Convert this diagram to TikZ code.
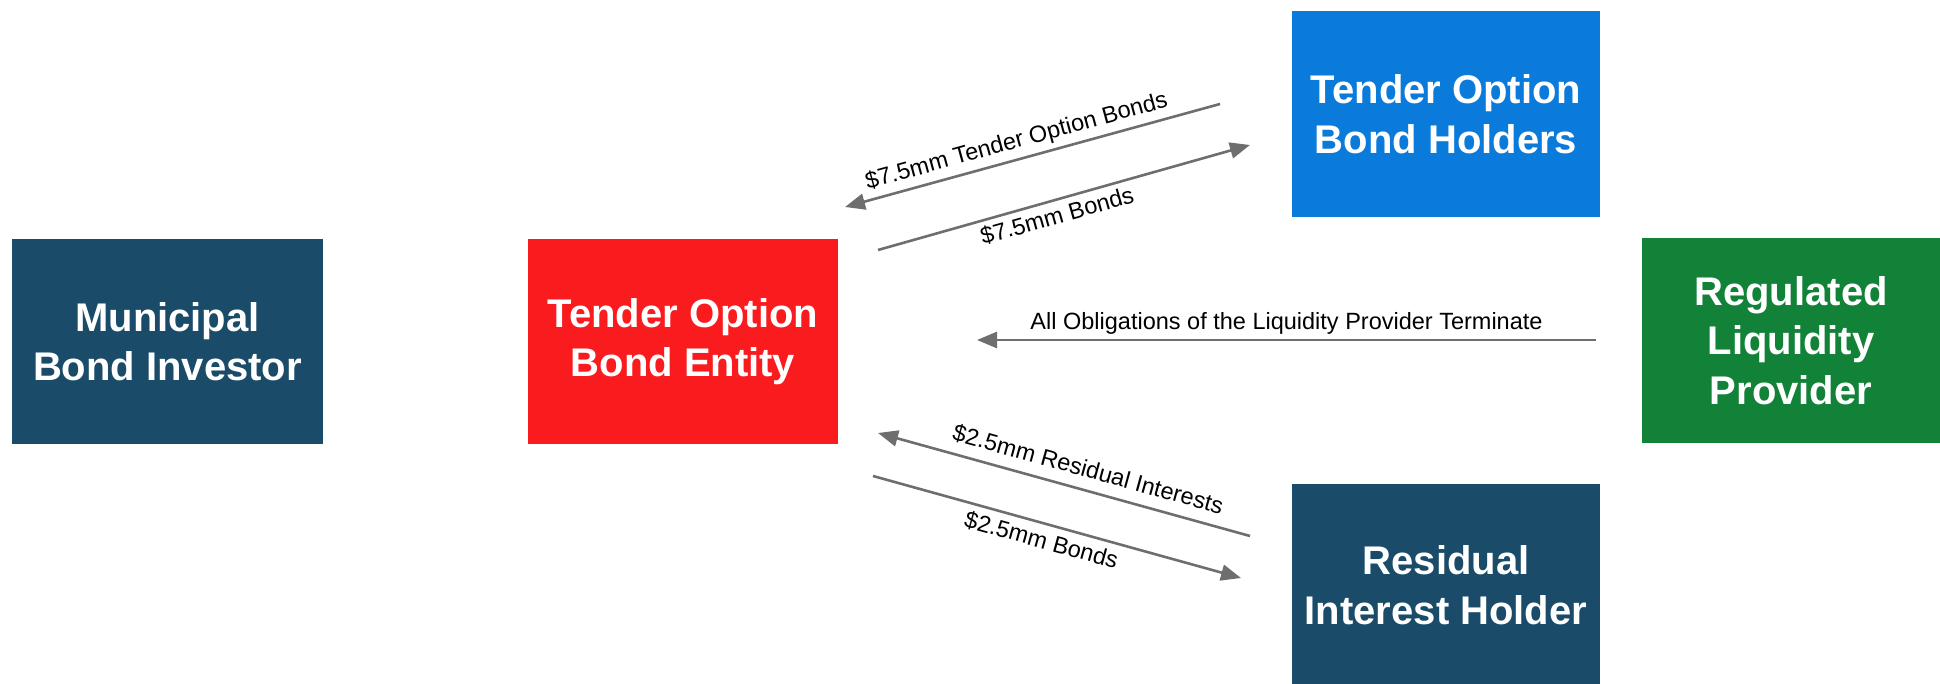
\documentclass[tikz,border=0pt]{standalone}
\usepackage{fontspec}
\setmainfont{Liberation Sans}
\usetikzlibrary{arrows.meta}
\definecolor{navybox}{RGB}{26,75,104}
\definecolor{redbox}{RGB}{250,27,30}
\definecolor{bluebox}{RGB}{11,123,219}
\definecolor{greenbox}{RGB}{18,130,56}
\definecolor{arrowgray}{RGB}{110,110,110}
\tikzset{
  boxnode/.style={rectangle, inner sep=0pt, text=white, align=center,
    font=\fontsize{40}{49.5}\selectfont\bfseries},
  flow/.style={draw=arrowgray, line width=2.6pt,
    -{Triangle[length=20pt,width=16pt]}},
  lbl/.style={font=\fontsize{23.5}{28}\selectfont, text=black, inner sep=3pt}
}
\begin{document}
\begin{tikzpicture}[x=1pt,y=-1pt]
\useasboundingbox (0,0) rectangle (1940,684);
\node[boxnode, fill=navybox, minimum width=311pt, minimum height=205pt] (mbi) at (167.5,341.5) {Municipal\\Bond Investor};
\node[boxnode, fill=redbox, minimum width=310pt, minimum height=205pt] (tobe) at (683,341.5) {Tender Option\\Bond Entity};
\node[boxnode, fill=bluebox, minimum width=308pt, minimum height=206pt] (tobh) at (1446,114) {Tender Option\\Bond Holders};
\node[boxnode, fill=greenbox, minimum width=298pt, minimum height=205pt] (rlp) at (1791,340.5) {Regulated\\Liquidity\\Provider};
\node[boxnode, fill=navybox, minimum width=308pt, minimum height=202pt] (rih) at (1446,585) {Residual\\Interest Holder};

\coordinate (a1s) at (1220,104);
\coordinate (a1e) at (845,207);
\coordinate (a2s) at (878,250);
\coordinate (a2e) at (1250,145);
\coordinate (a3s) at (1596,340);
\coordinate (a3e) at (977,340);
\coordinate (a4s) at (1250,536);
\coordinate (a4e) at (878,433);
\coordinate (a5s) at (873,476);
\coordinate (a5e) at (1241,578);

\draw[flow] (a1s) -- node[lbl, pos=0.53, sloped, above=2pt] {\$7.5mm Tender Option Bonds} (a1e);
\draw[flow] (a2s) -- node[lbl, pos=0.47, sloped, below=2pt] {\$7.5mm Bonds} (a2e);
\draw[flow] (a3s) -- node[lbl, pos=0.5, above=1pt] {All Obligations of the Liquidity Provider Terminate} (a3e);
\draw[flow] (a4s) -- node[lbl, pos=0.45, sloped, above=7pt] {\$2.5mm Residual Interests} (a4e);
\draw[flow] (a5s) -- node[lbl, pos=0.47, sloped, below=3pt] {\$2.5mm Bonds} (a5e);
\end{tikzpicture}
\end{document}
